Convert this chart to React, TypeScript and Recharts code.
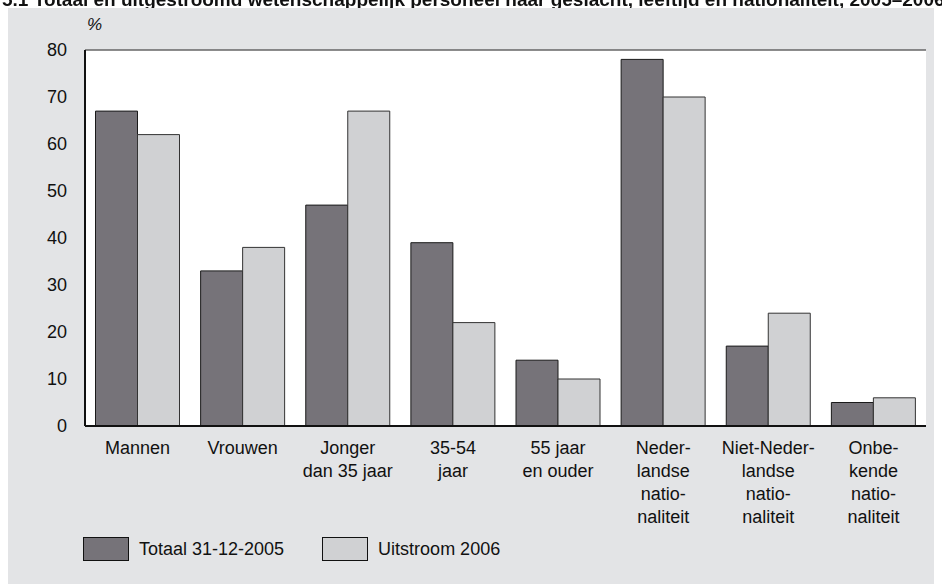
import React from 'react';
import { BarChart, Bar, XAxis, YAxis, CartesianGrid, Legend } from 'recharts';

const categories = [
  'Mannen',
  'Vrouwen',
  'Jonger\ndan 35 jaar',
  '35-54\njaar',
  '55 jaar\nen ouder',
  'Neder-\nlandse\nnatio-\nnaliteit',
  'Niet-Neder-\nlandse\nnatio-\nnaliteit',
  'Onbe-\nkende\nnatio-\nnaliteit',
];
const totaal2005 = [67, 33, 47, 39, 14, 78, 17, 5];
const uitstroom2006 = [62, 38, 67, 22, 10, 70, 24, 6];
const yTicks = [0, 10, 20, 30, 40, 50, 60, 70, 80];

const title = '5.1 Totaal en uitgestroomd wetenschappelijk personeel naar geslacht, leeftijd en nationaliteit, 2005–2006';
const seriesNames = { totaal: 'Totaal 31-12-2005', uitstroom: 'Uitstroom 2006' };
const DARK = '#767379';
const LIGHT = '#d0d1d3';
const FONT = '"Liberation Sans", Arial, Helvetica, sans-serif';

const data = categories.map((c, i) => ({
  name: c,
  totaal: totaal2005[i],
  uitstroom: uitstroom2006[i],
}));

const CategoryTick = (props: any) => {
  const { x, y, payload } = props;
  const lines = String(payload.value).split('\n');
  return (
    <text x={x} y={y} textAnchor="middle" fill="#111" fontSize={18} fontFamily={FONT}>
      {lines.map((l: string, i: number) => (
        <tspan key={i} x={x} dy={i === 0 ? 20 : 23}>
          {l}
        </tspan>
      ))}
    </text>
  );
};

const LegendContent = () => (
  <div style={{ display: 'flex', alignItems: 'center', height: 24, fontFamily: FONT, fontSize: 18, color: '#111' }}>
    {[
      { name: seriesNames.totaal, color: DARK },
      { name: seriesNames.uitstroom, color: LIGHT },
    ].map((item) => (
      <div key={item.name} style={{ display: 'flex', alignItems: 'center', marginRight: 38 }}>
        <div style={{ width: 44, height: 22, background: item.color, border: '1px solid #111' }} />
        <span style={{ marginLeft: 10, lineHeight: '24px' }}>{item.name}</span>
      </div>
    ))}
  </div>
);

export default function App() {
  // body margin (8px) places this panel at the grey area's corner
  return (
    <div style={{ position: 'relative', width: 934, height: 576, background: '#e3e4e6', fontFamily: FONT }}>
      <svg
        width={942}
        height={8}
        style={{ position: 'fixed', left: 0, top: 0, zIndex: 100, display: 'block' }}
      >
        <text x={2} y={6} fontSize={19} fontWeight={700} fill="#111" fontFamily={FONT}>
          {title}
        </text>
      </svg>
      <BarChart
        width={934}
        height={576}
        data={data}
        margin={{ top: 42, right: 16, bottom: 23, left: 0 }}
        barCategoryGap="10%"
        barGap={0}
      >
        <CartesianGrid vertical={false} stroke="#666" strokeWidth={1.4} fill="#fff" fillOpacity={1} />
        <XAxis
          dataKey="name"
          height={111}
          interval={0}
          tickLine={false}
          axisLine={{ stroke: '#111', strokeWidth: 2 }}
          tick={<CategoryTick />}
        />
        <YAxis
          yAxisId="left"
          width={77}
          domain={[0, 80]}
          ticks={yTicks}
          interval={0}
          tickLine={false}
          tickMargin={12}
          axisLine={{ stroke: '#111', strokeWidth: 2 }}
          tick={{ fill: '#111', fontSize: 18, fontFamily: FONT }}
          label={{
            content: ({ viewBox }: any) => (
              <text
                x={viewBox.x + viewBox.width + 2}
                y={viewBox.y - 20}
                fontSize={17}
                fontStyle="italic"
                fill="#111"
                fontFamily={FONT}
              >
                %
              </text>
            ),
          }}
        />
        <YAxis
          yAxisId="right"
          orientation="right"
          width={0}
          domain={[0, 80]}
          tick={false}
          tickLine={false}
          axisLine={{ stroke: '#111', strokeWidth: 2 }}
        />
        <Legend
          verticalAlign="bottom"
          align="left"
          height={24}
          content={<LegendContent />}
          wrapperStyle={{ left: 75, width: 'auto' }}
        />
        <Bar
          yAxisId="left"
          dataKey="totaal"
          name={seriesNames.totaal}
          fill={DARK}
          stroke="#1a1a1a"
          strokeWidth={1}
          isAnimationActive={false}
        />
        <Bar
          yAxisId="left"
          dataKey="uitstroom"
          name={seriesNames.uitstroom}
          fill={LIGHT}
          stroke="#333"
          strokeWidth={1}
          isAnimationActive={false}
        />
      </BarChart>
    </div>
  );
}
